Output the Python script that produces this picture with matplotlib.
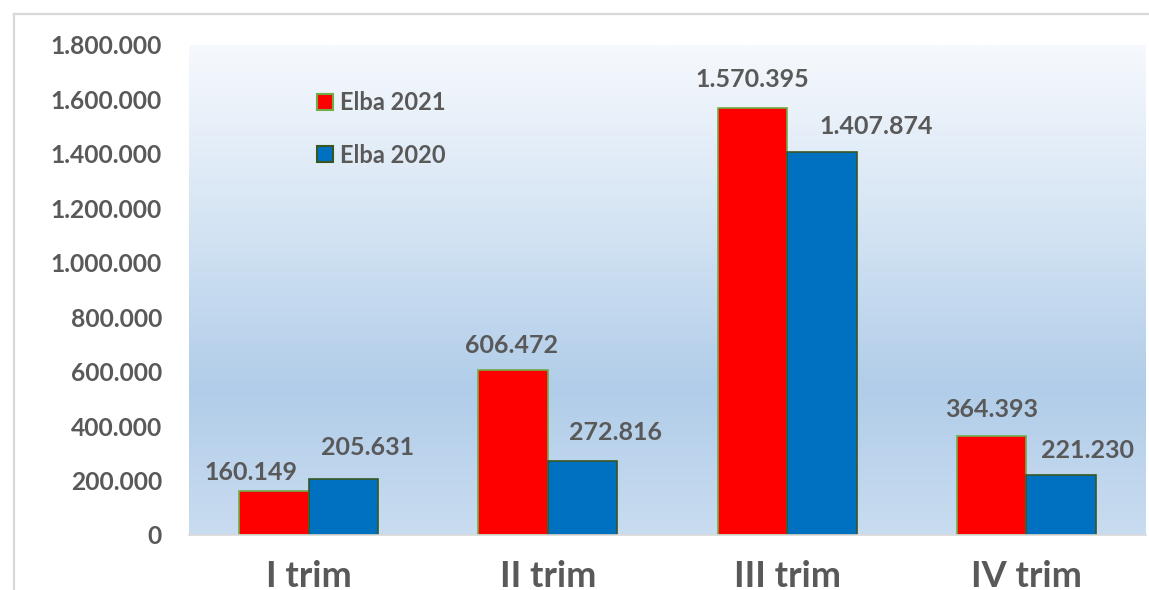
import matplotlib
matplotlib.use('Agg')
import matplotlib.pyplot as plt
import numpy as np
from matplotlib.colors import LinearSegmentedColormap
from matplotlib.lines import Line2D
from matplotlib.patches import Patch

# data
categories = ['I trim', 'II trim', 'III trim', 'IV trim']
series_names = ['Elba 2021', 'Elba 2020']
elba_2021 = [160149, 606472, 1570395, 364393]
elba_2020 = [205631, 272816, 1407874, 221230]
y_ticks = [0, 200000, 400000, 600000, 800000, 1000000, 1200000, 1400000, 1600000, 1800000]

TEXT = '#595959'
RED = '#FF0000'
BLUE = '#0070C0'
RED_EDGE = '#70AD47'
BLUE_EDGE = '#385723'

plt.rcParams['font.family'] = ['Lato', 'DejaVu Sans']
plt.rcParams['font.weight'] = 'bold'

W, H = 1149, 590
fig = plt.figure(figsize=(W / 100, H / 100), dpi=100)
fig.patch.set_facecolor('white')

# outer chart border (only top and left visible in the crop)
fig.add_artist(Line2D([14 / W, 14 / W], [0, 1 - 14 / H], transform=fig.transFigure,
                      color='#D9D9D9', lw=1.6))
fig.add_artist(Line2D([14 / W, 1], [1 - 14 / H, 1 - 14 / H], transform=fig.transFigure,
                      color='#D9D9D9', lw=1.6))

ax = fig.add_axes([189 / W, 55 / H, 957 / W, 490 / H])
ax.set_facecolor('none')

# gradient fill of plot area
grad = LinearSegmentedColormap.from_list('bg', [
    (0.0, '#C9DCF0'),
    (0.30, '#B1CDE9'),
    (0.65, '#D6E5F4'),
    (1.0, '#F6F9FD'),
])
g = np.linspace(0, 1, 256).reshape(-1, 1)
ax.imshow(g, cmap=grad, origin='lower', aspect='auto', extent=[0, 1, 0, 1],
          transform=ax.transAxes, zorder=0)

x = np.arange(len(categories))
w = 0.29
b1 = ax.bar(x - w / 2, elba_2021, w, color=RED, edgecolor=RED_EDGE, linewidth=1.2,
            zorder=2, label=series_names[0])
b2 = ax.bar(x + w / 2, elba_2020, w, color=BLUE, edgecolor=BLUE_EDGE, linewidth=1.2,
            zorder=2, label=series_names[1])

# data labels, offsets in pixels (label centre relative to bar top centre)
off_2021 = [(-23, 19), (-2, 24), (0, 28), (0, 26)]
off_2020 = [(24, 32), (33, 28), (54, 25), (26, 24)]
for bars, vals, offs in ((b1, elba_2021, off_2021), (b2, elba_2020, off_2020)):
    for rect, v, (dx, dy) in zip(bars, vals, offs):
        ax.annotate(f'{v:,}'.replace(',', '.'),
                    (rect.get_x() + rect.get_width() / 2, rect.get_height()),
                    xytext=(dx * 0.72, dy * 0.72), textcoords='offset points',
                    ha='center', va='center', fontsize=18, color=TEXT,
                    fontweight='bold', zorder=3)

ax.set_xlim(-0.5, len(categories) - 0.5)
ax.set_ylim(0, 1800000)
ax.set_yticks(y_ticks)
ax.set_yticklabels([f'{t:,}'.replace(',', '.') for t in y_ticks])
ax.set_xticks(x)
ax.set_xticklabels(categories)
ax.tick_params(axis='y', length=0, pad=27 * 0.72, labelsize=17.7, labelcolor=TEXT)
ax.tick_params(axis='x', length=0, pad=25 * 0.72, labelsize=26, labelcolor=TEXT)
for lab in ax.get_xticklabels() + ax.get_yticklabels():
    lab.set_fontweight('bold')

for s in ('top', 'right', 'left'):
    ax.spines[s].set_visible(False)
ax.spines['bottom'].set_color('#D9D9D9')
ax.spines['bottom'].set_linewidth(1.2)
ax.spines['bottom'].set_zorder(3)

handles = [Patch(facecolor=RED, edgecolor=RED_EDGE, linewidth=1.5),
           Patch(facecolor=BLUE, edgecolor=BLUE_EDGE, linewidth=1.5)]
leg = ax.legend(handles, series_names, loc='upper left',
                bbox_to_anchor=((317 - 189) / 957, (535 - 91) / 490),
                frameon=False, fontsize=17, handlelength=0.68, handleheight=0.68,
                handletextpad=0.3, labelspacing=1.25, borderaxespad=0, borderpad=0)
for t in leg.get_texts():
    t.set_color(TEXT)
    t.set_fontweight('bold')

fig.savefig('out.png', dpi=100)
